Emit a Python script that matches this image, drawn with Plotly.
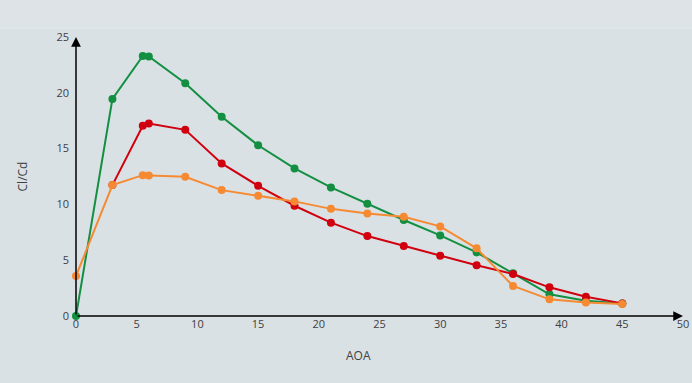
import plotly.graph_objects as go

# Angle of attack (deg) and lift-to-drag ratio for three profiles
aoa = [0, 3, 5.5, 6, 9, 12, 15, 18, 21, 24, 27, 30, 33, 36, 39, 42, 45]
green_cl_cd = [0.0, 19.45, 23.3, 23.25, 20.86, 17.85, 15.3, 13.22, 11.52, 10.05, 8.6, 7.22, 5.7, 3.82, 1.94, 1.37, 1.13]
aoa_red = [3, 5.5, 6, 9, 12, 15, 18, 21, 24, 27, 30, 33, 36, 39, 42, 45]
red_cl_cd = [11.73, 17.04, 17.25, 16.68, 13.67, 11.67, 9.88, 8.36, 7.16, 6.27, 5.4, 4.54, 3.76, 2.57, 1.73, 1.13]
orange_cl_cd = [3.58, 11.73, 12.62, 12.6, 12.47, 11.28, 10.77, 10.27, 9.6, 9.19, 8.89, 8.03, 6.06, 2.69, 1.49, 1.22, 1.07]

x_ticks = [0, 5, 10, 15, 20, 25, 30, 35, 40, 45, 50]
y_ticks = [0, 5, 10, 15, 20, 25]

series = [
    (aoa, green_cl_cd, "#138f42"),
    (aoa_red, red_cl_cd, "#d0000e"),
    (aoa, orange_cl_cd, "#f68a32"),
]

fig = go.Figure()
for xs, ys, color in series:
    fig.add_trace(go.Scatter(
        x=xs, y=ys, mode="lines+markers",
        line=dict(color=color, width=2),
        marker=dict(color=color, size=8),
        showlegend=False, cliponaxis=False,
    ))

font = dict(family="Open Sans, Liberation Sans, sans-serif", size=11, color="#404040")
title_font = dict(family=font["family"], size=12, color="#404040")

# Axis lines with arrowheads
for (x0, y0, x1, y1) in [(0, 0, 50, 0), (0, 0, 0, 25)]:
    fig.add_annotation(
        x=x1, y=y1, ax=x0, ay=y0, xref="x", yref="y", axref="x", ayref="y",
        showarrow=True, arrowhead=2, arrowsize=1.3, arrowwidth=1.5,
        arrowcolor="black", text="",
    )

# x-axis title, sitting slightly left of the plot centre
fig.add_annotation(
    text="AOA", xref="paper", yref="paper", x=0.465, y=0, yshift=-39,
    showarrow=False, font=title_font, xanchor="center", yanchor="middle",
)

fig.update_layout(
    width=692, height=383,
    margin=dict(l=76, r=9, t=37, b=67),
    paper_bgcolor="#dae1e5", plot_bgcolor="rgba(0,0,0,0)",
    font=font,
    xaxis=dict(
        range=[0, 50], tickvals=x_ticks, showgrid=False, zeroline=False,
        showline=False, ticks="", tickfont=font, automargin=False,
    ),
    yaxis=dict(
        range=[0, 25], tickvals=y_ticks, showgrid=False, zeroline=False,
        showline=False, ticks="", tickfont=font, ticklabelstandoff=6, automargin=False,
        title=dict(text="Cl/Cd", font=title_font, standoff=26),
    ),
    shapes=[
        dict(type="rect", xref="paper", yref="paper", x0=-0.2, x1=1.1, y0=1.032, y1=1.2,
             fillcolor="#dde3e6", line=dict(width=0), layer="below"),
        dict(type="line", xref="paper", yref="paper", x0=-0.2, x1=1.1, y0=1.032, y1=1.032,
             line=dict(color="#e6eaec", width=1), layer="below"),
    ],
)

fig.write_html("out.html")
